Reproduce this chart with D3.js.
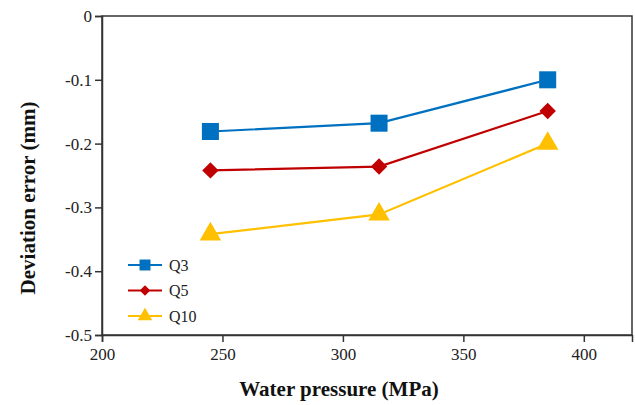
<!DOCTYPE html>
<html>
<head>
<meta charset="utf-8">
<script src="https://cdn.jsdelivr.net/npm/d3@7"></script>
<style>
  body { margin: 0; background: #fff; }
  text { font-family: "Liberation Serif", "Times New Roman", serif; }
</style>
</head>
<body>
<div id="chart"></div>
<script>
// data
var pressures = [245, 315, 385];
var seriesNames = ["Q3", "Q5", "Q10"];
var q3 = [-0.181, -0.168, -0.100];
var q5 = [-0.242, -0.236, -0.149];
var q10 = [-0.342, -0.311, -0.200];
var xTicks = [200, 250, 300, 350, 400];
var yTicks = [0, -0.1, -0.2, -0.3, -0.4, -0.5];

var width = 635;
var height = 405;
var margin = {left: 102, right: 3, top: 16, bottom: 70};

var svg = d3.select("#chart")
    .append("svg")
    .attr("width", width)
    .attr("height", height);

var xScale = d3.scaleLinear()
    .domain([200, 420])
    .range([margin.left, width - margin.right]);

var yScale = d3.scaleLinear()
    .domain([-0.5, 0])
    .range([height - margin.bottom, margin.top]);

// frame
svg.append("rect")
    .attr("x", xScale(200))
    .attr("y", yScale(0))
    .attr("width", xScale(420) - xScale(200))
    .attr("height", yScale(-0.5) - yScale(0))
    .attr("fill", "none")
    .attr("stroke", "#333")
    .attr("stroke-width", 1.5);

var xAxis = svg.append("g")
    .attr("transform", `translate(0, ${yScale(-0.5)})`)
    .call(d3.axisBottom(xScale).tickValues(xTicks).tickSize(7).tickPadding(6).tickFormat(d3.format("d")));

var yAxis = svg.append("g")
    .attr("transform", `translate(${xScale(200)}, 0)`)
    .call(d3.axisLeft(yScale).tickValues(yTicks).tickSize(7).tickPadding(3)
        .tickFormat(d => d === 0 ? "0" : d.toFixed(1)));

[xAxis, yAxis].forEach(function(a) {
    a.attr("font-family", "'Liberation Serif', 'Times New Roman', serif").attr("font-size", 17);
    a.select(".domain").attr("stroke", "#333").attr("stroke-width", 1.5);
    a.selectAll(".tick line").attr("stroke", "#333").attr("stroke-width", 1.5);
    a.selectAll(".tick text").attr("fill", "#222");
});

// axis titles
svg.append("text")
    .attr("x", 339)
    .attr("y", 396)
    .attr("text-anchor", "middle")
    .attr("font-size", 21)
    .attr("font-weight", "bold")
    .attr("fill", "#111")
    .text("Water pressure (MPa)");

svg.append("text")
    .attr("transform", "translate(35, 198) rotate(-90)")
    .attr("text-anchor", "middle")
    .attr("font-size", 21)
    .attr("font-weight", "bold")
    .attr("fill", "#111")
    .text("Deviation error (mm)");

var series = [
    {name: seriesNames[0], values: q3, color: "#0070C0", symbol: d3.symbolSquare, rot: 0, size: 290, legSize: 120},
    {name: seriesNames[1], values: q5, color: "#C00000", symbol: d3.symbolSquare, rot: 45, size: 135, legSize: 55},
    {name: seriesNames[2], values: q10, color: "#FFC000", symbol: d3.symbolTriangle, rot: 0, size: 200, legSize: 90}
];

var line = d3.line()
    .x((d, i) => xScale(pressures[i]))
    .y(d => yScale(d));

series.forEach(function(s) {
    svg.append("path")
        .datum(s.values)
        .attr("fill", "none")
        .attr("stroke", s.color)
        .attr("stroke-width", 2.2)
        .attr("d", line);

    svg.selectAll(null)
        .data(s.values)
        .enter()
        .append("path")
        .attr("transform", (d, i) => `translate(${xScale(pressures[i])}, ${yScale(d)}) rotate(${s.rot})`)
        .attr("d", d3.symbol().type(s.symbol).size(s.size))
        .attr("fill", s.color);
});

// legend
var legend = svg.append("g");
series.forEach(function(s, i) {
    var y = 265 + i * 25.5;
    legend.append("line")
        .attr("x1", 128).attr("x2", 162)
        .attr("y1", y).attr("y2", y)
        .attr("stroke", s.color)
        .attr("stroke-width", 2.2);
    legend.append("path")
        .attr("transform", `translate(145, ${y}) rotate(${s.rot})`)
        .attr("d", d3.symbol().type(s.symbol).size(s.legSize))
        .attr("fill", s.color);
    legend.append("text")
        .attr("x", 169)
        .attr("y", y + 5.5)
        .attr("font-size", 16)
        .attr("fill", "#222")
        .text(s.name);
});
</script>
</body>
</html>
